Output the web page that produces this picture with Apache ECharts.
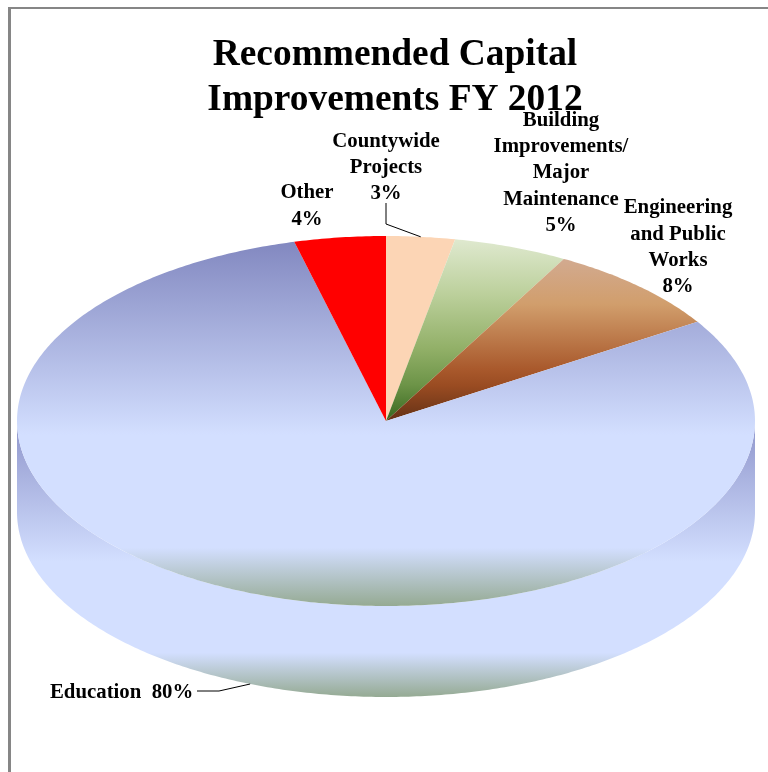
<!DOCTYPE html>
<html>
<head>
<meta charset="utf-8">
<style>html,body{margin:0;padding:0;background:#fff}#chart{width:768px;height:772px}</style>
<script src="https://cdn.jsdelivr.net/npm/echarts@6/dist/echarts.min.js"></script>
</head>
<body>
<div id="chart"></div>
<script>
// Budget shares, clockwise from twelve o'clock
var categories = ['Countywide\nProjects', 'Building\nImprovements/\nMajor\nMaintenance', 'Engineering\nand Public\nWorks', 'Education', 'Other'];
var shares = [3, 5, 8, 80, 4];

// Tilted-disc geometry
var CX = 386, CY = 421, RX = 369, RY = 185, DEPTH = 91;
var total = shares.reduce(function (a, b) { return a + b; }, 0);
var FONT = '"Liberation Serif", "Times New Roman", serif';

function vGrad(stops) {
  return {
    type: 'linear', x: 0, y: 0, x2: 0, y2: 1,
    colorStops: stops.map(function (s) { return { offset: s[0], color: s[1] }; })
  };
}

var faceFills = [
  '#fcd5b5',
  vGrad([[0, '#dfe9cf'], [0.3, '#bcd09c'], [0.6, '#92b068'], [0.8, '#6d9448'], [1, '#37671f']]),
  vGrad([[0, '#d2aa90'], [0.28, '#d19e6c'], [0.68, '#a9592c'], [0.78, '#9a4c22'], [1, '#643116']]),
  vGrad([[0, '#8288c0'], [0.53, '#d3dfff'], [0.84, '#d3dfff'], [1, '#95aa93']]),
  '#ff0000'
];
var wallFill = vGrad([[0, '#8e95cb'], [0.51, '#d3dfff'], [0.84, '#d3dfff'], [1, '#95aa93']]);

// Label anchors: [x, y, align]
var labelAnchors = [
  [386, 167.5, 'center'],
  [561, 173, 'center'],
  [678, 247.5, 'center'],
  [50, 693, 'left'],
  [307, 206, 'center']
];
var labelSeparators = ['\n', '\n', '\n', '  ', '\n'];

function pt(t, dy) {
  return [CX + RX * Math.sin(t), CY + (dy || 0) - RY * Math.cos(t)];
}
function sliceRange(i) {
  var before = 0;
  for (var k = 0; k < i; k++) before += shares[k];
  var unit = Math.PI * 2 / total;
  return [before * unit, (before + shares[i]) * unit];
}
function arc(a, b, dy) {
  var pts = [], n = Math.max(2, Math.ceil(Math.abs(b - a) * 90));
  for (var j = 0; j <= n; j++) pts.push(pt(a + (b - a) * j / n, dy));
  return pts;
}

// Outer wall: only the part of a slice on the near half of the disc shows
function renderWall(params, api) {
  var r = sliceRange(api.value(1));
  var a = Math.max(r[0], Math.PI / 2), b = Math.min(r[1], Math.PI * 1.5);
  if (b <= a) return { type: 'group', children: [] };
  return {
    type: 'polygon',
    shape: { points: arc(a, b, 0).concat(arc(b, a, DEPTH)) },
    style: { fill: wallFill }
  };
}

function renderFace(params, api) {
  var i = api.value(1);
  var r = sliceRange(i);
  return {
    type: 'polygon',
    shape: { points: [[CX, CY]].concat(arc(r[0], r[1], 0)) },
    style: { fill: faceFills[i] }
  };
}

function renderLabel(params, api) {
  var i = api.value(1);
  var a = labelAnchors[i];
  var children = [{
    type: 'text',
    style: {
      x: a[0], y: a[1],
      text: categories[i] + labelSeparators[i] + api.value(0) + '%',
      fill: '#000', align: a[2], verticalAlign: 'middle',
      font: 'bold 20.8px ' + FONT, lineHeight: 26.3
    }
  }];
  var r = sliceRange(i), mid = (r[0] + r[1]) / 2, line = null;
  if (i === 0) {
    line = [[CX, 203], [CX, 224], pt(mid, 0)];
  } else if (i === 3) {
    line = [[197, 691], [219, 691], pt(mid, DEPTH)];
  }
  if (line) {
    children.push({
      type: 'polyline',
      shape: { points: line },
      style: { stroke: '#000', lineWidth: 1, fill: null }
    });
  }
  return { type: 'group', children: children };
}

var rows = shares.map(function (v, i) { return [v, i]; });

var chart = echarts.init(document.getElementById('chart'), null, { renderer: 'canvas' });
chart.setOption({
  animation: false,
  backgroundColor: '#ffffff',
  title: {
    text: 'Recommended Capital\nImprovements FY 2012',
    left: 390, top: 27.5, textAlign: 'center',
    textStyle: { fontFamily: FONT, fontWeight: 'bold', fontSize: 37.4, lineHeight: 45.5, color: '#000' }
  },
  graphic: [{
    type: 'line', silent: true,
    shape: { x1: 8, y1: 8, x2: 768, y2: 8 },
    style: { stroke: '#868686', lineWidth: 2 }
  }, {
    type: 'line', silent: true,
    shape: { x1: 9.5, y1: 7, x2: 9.5, y2: 772 },
    style: { stroke: '#868686', lineWidth: 3 }
  }],
  series: [
    { type: 'custom', coordinateSystem: 'none', z: 1, renderItem: renderWall, data: rows, silent: true },
    { type: 'custom', coordinateSystem: 'none', z: 2, renderItem: renderFace, data: rows, silent: true },
    { type: 'custom', coordinateSystem: 'none', z: 3, renderItem: renderLabel, data: rows, silent: true }
  ]
});
</script>
</body>
</html>
